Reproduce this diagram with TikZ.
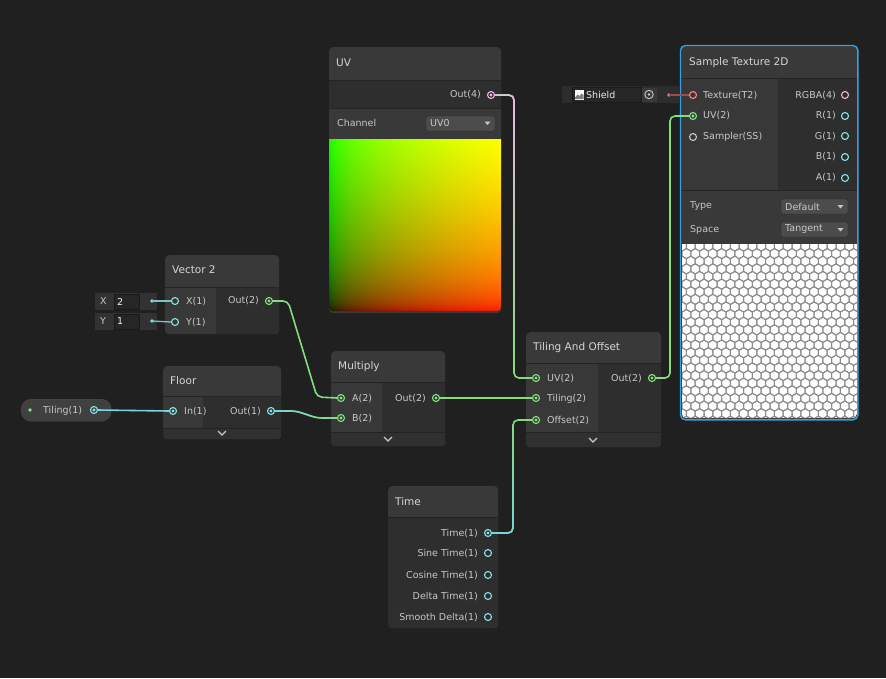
\documentclass[tikz,border=0pt]{standalone}
\usepackage{fontspec}
\setmainfont{DejaVu Sans}
\usetikzlibrary{calc,fadings}
\pgfdeclarelayer{wirelayer}
\pgfdeclarelayer{portlayer}
\pgfsetlayers{main,wirelayer,portlayer}
\definecolor{bg}{RGB}{32,32,32}
\definecolor{head}{RGB}{57,57,57}
\definecolor{incol}{RGB}{56,56,56}
\definecolor{outcol}{RGB}{46,46,46}
\definecolor{sepc}{RGB}{36,36,36}
\definecolor{foot}{RGB}{48,48,48}
\definecolor{txt}{RGB}{200,200,200}
\definecolor{htxt}{RGB}{214,214,214}
\definecolor{pgreen}{RGB}{132,228,128}
\definecolor{pcyan}{RGB}{132,228,231}
\definecolor{ppink}{RGB}{240,180,228}
\definecolor{pred}{RGB}{255,130,130}
\definecolor{pgray}{RGB}{200,200,200}
\definecolor{wgreen}{RGB}{130,222,122}
\definecolor{wcyan}{RGB}{118,214,218}
\definecolor{wpink}{RGB}{236,184,226}
\definecolor{wred}{RGB}{150,80,80}
\definecolor{selblue}{RGB}{52,160,230}
\definecolor{fieldbg}{RGB}{50,50,50}
\definecolor{boxbg}{RGB}{38,38,38}
\definecolor{boxline}{RGB}{26,26,26}
\definecolor{ddbg}{RGB}{76,76,76}
\definecolor{ddline}{RGB}{40,40,40}
\definecolor{pillbg}{RGB}{64,64,64}
\definecolor{hexline}{RGB}{140,140,140}
\pgfdeclarefunctionalshading{uvfun}{\pgfpointorigin}{\pgfpoint{100bp}{100bp}}{}{
  25 sub 50 div dup 0 lt {pop 0} if dup 1 gt {pop 1} if 0.4545 exp
  exch
  25 sub 50 div dup 0 lt {pop 0} if dup 1 gt {pop 1} if 0.4545 exp
  exch 0
}
\tikzset{
  nbox/.style={rectangle, fill=head, rounded corners=4pt, inner sep=0pt, anchor=north west},
  lbl/.style={text=txt, font=\fontsize{9.5}{11}\selectfont, inner sep=0pt},
  hdr/.style={text=htxt, font=\fontsize{10.5}{12}\selectfont, inner sep=0pt, anchor=west},
  portring/.style={circle, draw=#1, line width=1.1pt, inner sep=0pt, minimum size=7pt},
  portfull/.style={portring=#1, path picture={\fill[#1] (path picture bounding box.center) circle (1.7pt);}},
  sdot/.style={circle, fill=#1, inner sep=0pt, minimum size=3.6pt},
  wire/.style={line width=1.6pt, rounded corners=5pt},
  chev/.style={draw=txt, line width=1.3pt},
  ddbox/.style={fill=ddbg, draw=ddline, rounded corners=2pt},
  sepline/.style={draw=sepc, line width=1pt},
}
\begin{document}
\begin{tikzpicture}[x=1pt,y=-1pt]
\fill[bg] (0,0) rectangle (886,678);
\useasboundingbox (0,0) rectangle (886,678);

% ================= UV node =================
\node[nbox, minimum width=172, minimum height=266] (uvnode) at (329,47) {};
\fill[outcol] (329,81) rectangle (501,108);
\draw[sepline] (329,80.5) -- (501,80.5);
\draw[sepline] (329,108.5) -- (501,108.5);
\node[hdr] (uvtitle) at (336,63) {UV};
\node[lbl, anchor=east] (uvoutl) at (481,95) {Out(4)};
\node[lbl, anchor=west] (uvchl) at (337,123) {Channel};
\draw[ddbox] (426,116) rectangle (495,131);
\node[lbl, anchor=west] (uvdd) at (430,123.5) {UV0};
\fill[txt] (484.5,121.5) -- (490.5,121.5) -- (487.5,125) -- cycle;
\begin{scope}
  \clip (329,139) rectangle (501,320);
  \clip[rounded corners=4pt] (329,120) rectangle (501,311);
  \shade[shading=uvfun] (329,139) rectangle (501,311);
\end{scope}

% ================= Sample Texture 2D =================
\node[nbox, minimum width=177, minimum height=374, rounded corners=5pt] (stnode) at (680.5,45.5) {};
\fill[incol] (681,79) rectangle (778,190);
\fill[outcol] (778,79) rectangle (857,190);
\draw[sepline] (681,78.5) -- (857,78.5);
\draw[sepline] (681,190.5) -- (857,190.5);
\node[hdr] (sttitle) at (689,63) {Sample Texture 2D};
\node[lbl, anchor=west] (sttexl) at (703,95.5) {Texture(T2)};
\node[lbl, anchor=west] (stuvl) at (703,116) {UV(2)};
\node[lbl, anchor=west] (stsaml) at (703,137) {Sampler(SS)};
\node[lbl, anchor=east] (strgbal) at (836,95.5) {RGBA(4)};
\node[lbl, anchor=east] (strl) at (836,116) {R(1)};
\node[lbl, anchor=east] (stgl) at (836,136.5) {G(1)};
\node[lbl, anchor=east] (stbl) at (836,157) {B(1)};
\node[lbl, anchor=east] (stal) at (836,178) {A(1)};
\node[lbl, anchor=west] (sttypel) at (690,206.5) {Type};
\draw[ddbox] (781,199) rectangle (848,214);
\node[lbl, anchor=west] (sttyped) at (785,206.5) {Default};
\fill[txt] (837.5,205) -- (843.5,205) -- (840.5,208.5) -- cycle;
\node[lbl, anchor=west] (stspl) at (690,229.5) {Space};
\draw[ddbox] (781,222) rectangle (848,237);
\node[lbl, anchor=west] (stspd) at (785,229.5) {Tangent};
\fill[txt] (837.5,228) -- (843.5,228) -- (840.5,231.5) -- cycle;
\begin{scope}
  \clip (682,244) rectangle (857,430);
  \clip[rounded corners=4pt] (682,230) rectangle (857,418);
  \fill[white] (682,244) rectangle (857,418);
  \foreach \j in {0,...,23}{
    \foreach \i in {0,...,20}{
      \pgfmathsetmacro{\cx}{682+\i*8.8+mod(\j,2)*4.4}
      \pgfmathsetmacro{\cy}{246+\j*7.62}
      \draw[hexline, line width=1pt, shift={(\cx,\cy)}] (30:5.08) -- (90:5.08) -- (150:5.08) -- (210:5.08) -- (270:5.08) -- (330:5.08) -- cycle;
    }
  }
\end{scope}
\draw[selblue, line width=1.4pt, rounded corners=5pt] (stnode.north west) rectangle (stnode.south east);

% Shield property
\fill[fieldbg!90!black] (562,86) rectangle (680,103);
\draw[fill=boxbg, draw=boxline] (572,87) rectangle (641,102);
\fill[white] (574.5,89.5) rectangle (584,99.5);
\fill[gray] (575,97.5) -- (577.5,94.5) -- (579.5,96) -- (581.5,93.5) -- (583.5,95) -- (583.5,99) -- (575,99) -- cycle;
\node[lbl, anchor=west, text=white!85!gray] (shieldl) at (586,95) {Shield};
\fill[head] (641.5,87.5) rectangle (657,101.5);
\draw[txt, line width=0.9pt] (649,94.5) circle (4.2);
\fill[txt] (649,94.5) circle (1.4);
\node[sdot=pred] (shielddot) at (669,95) {};

% ================= Vector 2 =================
\node[nbox, minimum width=114, minimum height=79] (v2node) at (165,255) {};
\begin{scope}
  \clip[rounded corners=4pt] (165,255) rectangle (279,334);
  \fill[incol] (165,288) rectangle (216,334);
  \fill[outcol] (216,288) rectangle (279,334);
\end{scope}
\draw[sepline] (165,287.5) -- (279,287.5);
\node[hdr] (v2title) at (172,270) {Vector 2};
\node[lbl, anchor=west] (v2xl) at (186,301.5) {X(1)};
\node[lbl, anchor=west] (v2yl) at (186,322.5) {Y(1)};
\node[lbl, anchor=east] (v2outl) at (259,301) {Out(2)};
% inline fields
\fill[fieldbg] (95,293) rectangle (157,310);
\draw[fill=boxbg, draw=boxline] (114,294) rectangle (139,309);
\node[lbl, anchor=west] (xlab) at (100,301.5) {X};
\node[lbl, anchor=west, text=white!90!gray] (xval) at (117,301.5) {2};
\node[sdot=pcyan] (xdot) at (152,301) {};
\fill[fieldbg] (95,313) rectangle (157,330);
\draw[fill=boxbg, draw=boxline] (114,314) rectangle (139,329);
\node[lbl, anchor=west] (ylab) at (100,321.5) {Y};
\node[lbl, anchor=west, text=white!90!gray] (yval) at (117,321.5) {1};
\node[sdot=pcyan] (ydot) at (152,321) {};

% ================= Floor =================
\node[nbox, minimum width=118, minimum height=73] (flnode) at (163,366) {};
\begin{scope}
  \clip[rounded corners=4pt] (163,366) rectangle (281,439);
  \fill[incol] (163,397) rectangle (203,428);
  \fill[outcol] (203,397) rectangle (281,428);
  \fill[foot] (163,429) rectangle (281,439);
\end{scope}
\draw[sepline] (163,396.5) -- (281,396.5);
\draw[sepline] (163,428.5) -- (281,428.5);
\node[hdr] (fltitle) at (170,381) {Floor};
\node[lbl, anchor=west] (flinl) at (184,411.5) {In(1)};
\node[lbl, anchor=east] (floutl) at (261,411.5) {Out(1)};
\draw[chev] (218,431) -- (222,435) -- (226,431);

% Tiling property pill
\node[rectangle, rounded corners=10pt, fill=pillbg, draw=black!70, minimum width=90, minimum height=22, anchor=north west, inner sep=0pt] (tilpill) at (21,399) {};
\node[sdot=pgreen] (tilgdot) at (30,410) {};
\node[lbl, anchor=west] (tilpilll) at (43,410.5) {Tiling(1)};

% ================= Multiply =================
\node[nbox, minimum width=114, minimum height=95] (mulnode) at (331,351) {};
\begin{scope}
  \clip[rounded corners=4pt] (331,351) rectangle (445,446);
  \fill[incol] (331,383) rectangle (382,432);
  \fill[outcol] (382,383) rectangle (445,432);
  \fill[foot] (331,433) rectangle (445,446);
\end{scope}
\draw[sepline] (331,382.5) -- (445,382.5);
\draw[sepline] (331,432.5) -- (445,432.5);
\node[hdr] (multitle) at (338,367) {Multiply};
\node[lbl, anchor=west] (mal) at (352,398.5) {A(2)};
\node[lbl, anchor=west] (mbl) at (352,418.5) {B(2)};
\node[lbl, anchor=east] (moutl) at (426,398.5) {Out(2)};
\draw[chev] (384,437) -- (388,441) -- (392,437);

% ================= Tiling And Offset =================
\node[nbox, minimum width=135, minimum height=115] (tonode) at (526,332) {};
\begin{scope}
  \clip[rounded corners=4pt] (526,332) rectangle (661,447);
  \fill[incol] (526,364) rectangle (598,432);
  \fill[outcol] (598,364) rectangle (661,432);
  \fill[foot] (526,433) rectangle (661,447);
\end{scope}
\draw[sepline] (526,363.5) -- (661,363.5);
\draw[sepline] (526,432.5) -- (661,432.5);
\node[hdr] (totitle) at (533,347.5) {Tiling And Offset};
\node[lbl, anchor=west] (touvl) at (547,378.5) {UV(2)};
\node[lbl, anchor=west] (totill) at (547,398.5) {Tiling(2)};
\node[lbl, anchor=west] (tooffl) at (547,420.5) {Offset(2)};
\node[lbl, anchor=east] (tooutl) at (642,378.5) {Out(2)};
\draw[chev] (589,438) -- (593,442) -- (597,438);

% ================= Time =================
\node[nbox, minimum width=110, minimum height=142] (timenode) at (388,486) {};
\begin{scope}
  \clip[rounded corners=4pt] (388,486) rectangle (498,628);
  \fill[outcol] (388,518) rectangle (498,628);
\end{scope}
\draw[sepline] (388,517.5) -- (498,517.5);
\node[hdr] (timetitle) at (395,501.5) {Time};
\node[lbl, anchor=east] (tm1) at (478,533.5) {Time(1)};
\node[lbl, anchor=east] (tm2) at (478,554) {Sine Time(1)};
\node[lbl, anchor=east] (tm3) at (478,575.5) {Cosine Time(1)};
\node[lbl, anchor=east] (tm4) at (478,596.5) {Delta Time(1)};
\node[lbl, anchor=east] (tm5) at (478,617.5) {Smooth Delta(1)};

% ================= Ports =================
\begin{pgfonlayer}{portlayer}
\node[portfull=ppink] (uvout) at (491,95) {};
\node[portring=pred] (sttex) at (693,95) {};
\node[portfull=pgreen] (stuv) at (693,116) {};
\node[portring=pgray] (stsam) at (693,137) {};
\node[portring=ppink] (strgba) at (845,95) {};
\node[portring=pcyan] (str) at (845,116) {};
\node[portring=pcyan] (stg) at (845,136) {};
\node[portring=pcyan] (stb) at (845,157) {};
\node[portring=pcyan] (sta) at (845,178) {};
\node[portring=pcyan] (v2x) at (175,301) {};
\node[portring=pcyan] (v2y) at (175,322) {};
\node[portfull=pgreen] (v2out) at (269,301) {};
\node[portfull=pcyan] (flin) at (173,411) {};
\node[portfull=pcyan] (flout) at (271,411) {};
\node[portfull=pcyan] (tilport) at (94,410) {};
\node[portfull=pgreen] (ma) at (341,398) {};
\node[portfull=pgreen] (mb) at (341,418) {};
\node[portfull=pgreen] (mout) at (436,398) {};
\node[portfull=pgreen] (touv) at (536,378) {};
\node[portfull=pgreen] (totil) at (536,398) {};
\node[portfull=pgreen] (tooff) at (536,420) {};
\node[portfull=pgreen] (toout) at (652,378) {};
\node[portfull=pcyan] (tmp1) at (488,533) {};
\node[portring=pcyan] (tmp2) at (488,553) {};
\node[portring=pcyan] (tmp3) at (488,575) {};
\node[portring=pcyan] (tmp4) at (488,596) {};
\node[portring=pcyan] (tmp5) at (488,617) {};
\end{pgfonlayer}

% ================= Wires =================
\begin{pgfonlayer}{wirelayer}
% UV -> Tiling And Offset UV
\draw[wire, wgreen] (uvout.east) -| ($(touv.center)+(-22,0)$) -- (touv.west);
\draw[wire, wpink, path fading=south] (uvout.east) -| ($(touv.center)+(-22,0)$) -- (touv.west);
% Vector2 -> Multiply A
\draw[wire, wgreen] (v2out.east) -- ($(v2out.center)+(19,0)$) -- ($(ma.center)+(-24,-1)$) -- (ma.west);
% Floor -> Multiply B
\draw[wire, wgreen] (flout.east) -- ($(flout.center)+(25,0)$) -- ($(mb.center)+(-24,0)$) -- (mb.west);
\draw[wire, wcyan, path fading=east] (flout.east) -- ($(flout.center)+(25,0)$) -- ($(mb.center)+(-24,0)$) -- (mb.west);
% Tiling property -> Floor In
\draw[wire, wcyan] (tilport.east) -- (flin.west);
% Multiply -> Tiling
\draw[wire, wgreen] (mout.east) -- (totil.west);
% Time -> Offset
\draw[wire, wgreen] (tmp1.east) -| ($(tooff.center)+(-23,0)$) -- (tooff.west);
\draw[wire, wcyan, path fading=north] (tmp1.east) -| ($(tooff.center)+(-23,0)$) -- (tooff.west);
% Tiling And Offset -> Sample Texture UV
\draw[wire, wgreen] (toout.east) -- ($(toout.center)+(18,0)$) |- (stuv.west);
% Shield -> Texture
\draw[wred, line width=1.2pt] (shielddot.center) -- (sttex.west);
% inline fields
\draw[wcyan!80!gray, line width=1.3pt] (xdot.center) -- (v2x.west);
\draw[wcyan!80!gray, line width=1.3pt] (ydot.center) -- (v2y.west);
\end{pgfonlayer}
\end{tikzpicture}
\end{document}
